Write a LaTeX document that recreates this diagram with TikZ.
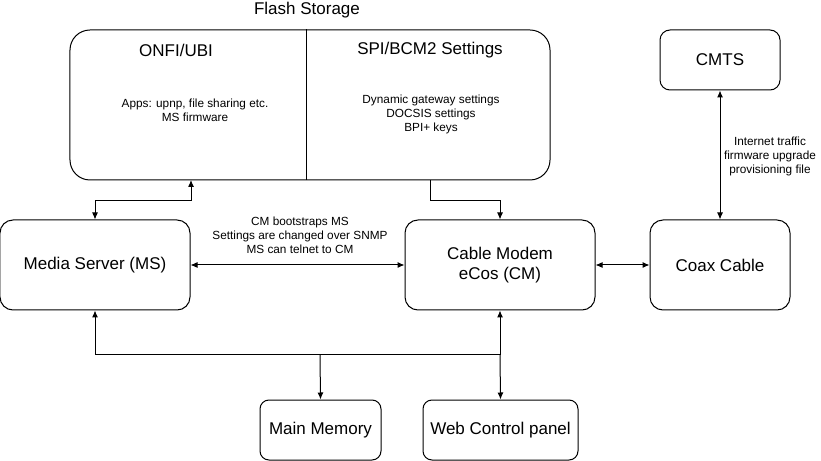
\documentclass[tikz,border=0pt]{standalone}
\usepackage{fontspec}
\setmainfont{Liberation Sans}
\usetikzlibrary{arrows.meta,calc}
\begin{document}
\begin{tikzpicture}[x=1bp,y=-1bp, line width=1bp,
  box/.style={draw, rounded corners=13bp, align=center, font=\fontsize{17bp}{20bp}\selectfont, inner sep=0pt},
  big/.style={align=center, font=\fontsize{17bp}{20bp}\selectfont, inner sep=0pt},
  small/.style={align=center, font=\fontsize{11.8bp}{14bp}\selectfont, inner sep=0pt},
  arr/.style={-{Latex[length=7bp,width=6bp]}},
  darr/.style={{Latex[length=7bp,width=6bp]}-{Latex[length=7bp,width=6bp]}}]
\useasboundingbox (0,0) rectangle (821,461);

% flash storage
\node[big] (title) at (307,10) {Flash Storage};
\node[box, rounded corners=20bp, minimum width=480bp, minimum height=150bp] (flash) at (310,105) {};
\draw ($(flash.north west)+(237,0)$) -- ($(flash.south west)+(237,0)$);
\node[big] (onfi) at (176,50) {ONFI/UBI};
\node[big] (spi) at (430,50) {SPI/BCM2 Settings};
\node[small] (apps) at (195,110) {Apps: upnp, file sharing etc.\\MS firmware};
\node[small] (dyn) at (431,114) {Dynamic gateway settings\\DOCSIS settings\\BPI+ keys};
\coordinate (fl1) at (191,180);
\coordinate (fl2) at (430,180);

% boxes
\node[box, minimum width=190bp, minimum height=90bp] (ms) at (95,265) {Media Server (MS)};
\node[box, minimum width=190bp, minimum height=90bp] (cm) at (500,265) {Cable Modem\\eCos (CM)};
\node[box, minimum width=140bp, minimum height=90bp] (coax) at (720,265) {Coax Cable};
\node[box, rounded corners=10bp, minimum width=120bp, minimum height=60bp] (cmts) at (720,60) {CMTS};
\node[box, rounded corners=9bp, minimum width=121bp, minimum height=60bp] (mem) at (320.5,430) {Main Memory};
\node[box, rounded corners=9bp, minimum width=155bp, minimum height=60bp] (web) at (500.5,430) {Web Control panel};

% labels
\node[small] (lab1) at (300,235) {CM bootstraps MS\\Settings are changed over SNMP\\MS can telnet to CM};
\node[small] (lab2) at (770,156) {Internet traffic\\firmware upgrade\\provisioning file};

% connectors
\draw[darr] (fl1) -- ++(0,21) -| (ms.north);
\draw[arr] (fl2) -- ++(0,21) -| (cm.north);
\draw[darr] (ms) -- (cm);
\draw[darr] (cm) -- (coax);
\draw[darr] (cmts) -- (coax);
\coordinate (j1) at (500,355);
\coordinate (j2) at (320,355);
\draw[arr] (j1) -| (ms.south);
\draw[arr] (j1) -- (cm.south);
\draw[arr] (j1) -- (web.north);
\draw[arr] (j2) -- (mem.north);
\end{tikzpicture}
\end{document}
